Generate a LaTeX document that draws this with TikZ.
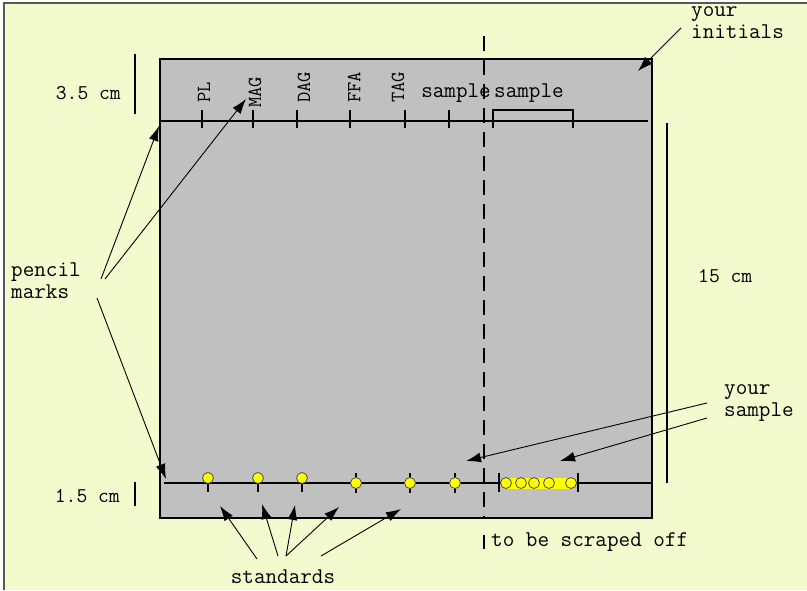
\documentclass[tikz,border=0pt]{standalone}
\usetikzlibrary{arrows.meta}
\definecolor{paperyellow}{RGB}{243,250,206}
\definecolor{plategray}{RGB}{192,192,192}
\definecolor{spotyellow}{RGB}{255,255,0}
\begin{document}
\begin{tikzpicture}[x=1pt, y=-1pt,
  lbl/.style={font=\ttfamily\fontsize{22.5}{21.5}\selectfont, inner sep=0pt, align=left},
  slbl/.style={lbl, font=\ttfamily\fontsize{21}{22}\selectfont},
  vlbl/.style={lbl, font=\ttfamily\fontsize{20}{22}\selectfont, rotate=90, anchor=west},
  arr/.style={-{Latex[length=15pt,width=10pt]}, line width=0.9pt},
  tick/.style={line width=1.2pt},
  spot/.style={circle, draw=black!70, fill=spotyellow, line width=0.8pt,
               minimum size=11pt, inner sep=0pt}]
  \useasboundingbox (0,0) rectangle (807,590);

  %% paper and frame
  \fill[white] (0,0) rectangle (807,590);
  \fill[paperyellow] (4,3) rectangle (807,590);
  \draw[line width=1.6pt, black!65] (4,590) -- (4,3) -- (807,3);

  %% plate
  \draw[fill=plategray, line width=1.3pt] (160,59) rectangle (652,518);
  \coordinate (corner) at (638,71);

  %% top pencil line with marks
  \draw[tick] (160,121) -- (648,121);
  \foreach \x in {202,253,297,350,405,449}
    \draw[tick] (\x,110) -- (\x,128);
  \draw[tick] (493,128) -- (493,110) -- (573,110) -- (573,128);

  \node[vlbl] (pl)  at (204,103) {PL};
  \node[vlbl] (mag) at (255,108) {MAG};
  \node[vlbl] (dag) at (304,103) {DAG};
  \node[vlbl] (ffa) at (354,103) {FFA};
  \node[vlbl] (tag) at (398,103) {TAG};
  \node[lbl, anchor=base east] (samplea) at (491,97) {sample};
  \node[lbl, anchor=base west] (sampleb) at (494,97) {sample};

  %% scrape line
  \draw[line width=1.3pt, dash pattern=on 15pt off 9pt] (484,36) -- (484,518);

  %% bottom pencil line with spots
  \draw[tick] (164,483) -- (652,483);
  \foreach \x in {208,258,302}{
    \draw[tick] (\x,483) -- (\x,492);
    \node[spot] at (\x,478) {};
  }
  \foreach \x in {356,410,455}{
    \draw[tick] (\x,473) -- (\x,493);
    \node[spot] at (\x,483) {};
  }
  \draw[tick] (499,473) -- (499,492);
  \draw[tick] (578,473) -- (578,492);
  \fill[spotyellow] (505,478) rectangle (571,488.5);
  \foreach \x in {506,521,534,549,571}
    \node[spot] at (\x,483) {};

  %% dimensions
  \draw[tick] (135,54) -- (135,114);
  \node[slbl, anchor=base east] (top35) at (121,99) {3.5 cm};
  \draw[tick] (135,482) -- (135,506);
  \node[slbl, anchor=base east] (bot15) at (120,502) {1.5 cm};
  \draw[tick] (667,123) -- (667,483);
  \node[slbl, anchor=base west] (len15) at (698,282) {15 cm};

  %% labels
  \node[lbl, anchor=base west] (initials) at (691,38) {your\\initials};
  \node[lbl, anchor=base west] (pencil) at (11,298) {pencil\\marks};
  \node[lbl, anchor=base west] (yoursample) at (724,416) {your\\sample};
  \node[lbl, anchor=base] (standards) at (283,583) {standards};
  \draw[tick] (484,535) -- (484,549);
  \node[lbl, anchor=base west] (scrape) at (491,546) {to be scraped off};

  %% arrow ends
  \coordinate (i0) at (681,28);
  \coordinate (p1) at (101,279);
  \coordinate (p2) at (105,279);
  \coordinate (p3) at (97,298);
  \coordinate (y1) at (707,403);
  \coordinate (y2) at (707,418);
  \coordinate (s1) at (257,559);
  \coordinate (s2) at (278,556);
  \coordinate (s3) at (286,556);
  \coordinate (s5) at (321,556);
  \coordinate (pmtop) at (159,126);
  \coordinate (pmmag) at (246,99);
  \coordinate (pmbot) at (166,479);
  \coordinate (scrapemark) at (466,461);
  \coordinate (sampmark) at (560,461);

  %% arrows
  \draw[arr] (i0) -- (corner);
  \draw[arr] (p1) -- (pmtop);
  \draw[arr] (p2) -- (pmmag);
  \draw[arr] (p3) -- (pmbot);
  \draw[arr] (y1) -- (scrapemark);
  \draw[arr] (y2) -- (sampmark);
  \draw[arr] (s1) -- (220,506);
  \draw[arr] (s2) -- (262,504);
  \draw[arr] (s3) -- (295,505);
  \draw[arr] (s3) -- (339,507);
  \draw[arr] (s5) -- (401,509);
\end{tikzpicture}
\end{document}
